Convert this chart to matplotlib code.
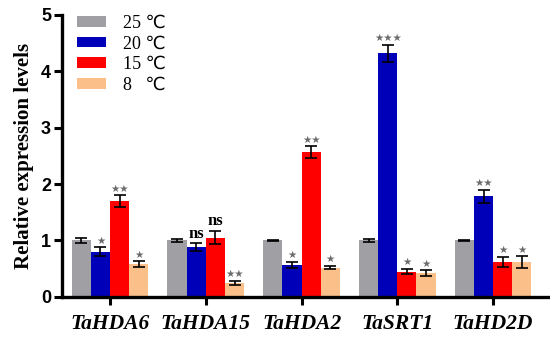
import numpy as np
import matplotlib
matplotlib.use('Agg')
import matplotlib.pyplot as plt

genes = ['TaHDA6', 'TaHDA15', 'TaHDA2', 'TaSRT1', 'TaHD2D']
temps = ['25 ℃', '20 ℃', '15 ℃', '8   ℃']
colors = ['#a0a0a4', '#0000b8', '#ff0000', '#fbc08a']

# rows = temperature, columns = gene
values = [
    [1.00, 1.00, 1.00, 1.00, 1.00],
    [0.80, 0.88, 0.57, 4.32, 1.78],
    [1.70, 1.05, 2.57, 0.45, 0.62],
    [0.58, 0.25, 0.52, 0.42, 0.62],
]
errors = [
    [0.05, 0.03, 0.01, 0.03, 0.01],
    [0.08, 0.07, 0.05, 0.15, 0.12],
    [0.10, 0.12, 0.10, 0.05, 0.09],
    [0.05, 0.04, 0.03, 0.05, 0.10],
]
marks = [
    ['', '', '', '', ''],
    ['*', 'ns', '*', '***', '**'],
    ['**', 'ns', '**', '*', '*'],
    ['*', '**', '*', '*', '*'],
]

fig = plt.figure(figsize=(5.5, 3.37), dpi=100)
ax = fig.add_axes([0.113, 0.119, 0.895, 0.837])

x = np.arange(len(genes))
w = 0.2
for i in range(len(temps)):
    xs = x + (i - 1.5) * w
    ax.bar(xs, values[i], width=w, color=colors[i], label=temps[i],
           edgecolor='none', zorder=2)
    ax.errorbar(xs, values[i], yerr=errors[i], fmt='none', ecolor='black',
                elinewidth=1.2, capsize=4, capthick=1.2, zorder=3)
    for j in range(len(genes)):
        m = marks[i][j]
        if not m:
            continue
        top = values[i][j] + errors[i][j] + 0.03
        if m == 'ns':
            ax.text(xs[j], top, 'ns', ha='center', va='bottom',
                    fontsize=12, fontweight='bold', family='Liberation Serif')
        else:
            ax.text(xs[j], top, '★' * len(m), ha='center',
                    va='bottom', fontsize=7.5, color='#6b6b6b',
                    family='DejaVu Sans')

ax.set_xlim(-0.5, 4.64)
ax.set_ylim(0, 5)
ax.set_yticks(range(6))
ax.set_yticklabels([str(v) for v in range(6)], fontsize=13,
                   fontweight='bold', family='Liberation Sans')
ax.set_xticks(x)
ax.set_xticklabels(genes, fontsize=15.5, fontweight='bold', style='italic',
                   family='Liberation Serif')
ax.tick_params(axis='both', width=2.2, length=6, pad=2)
ax.tick_params(axis='x', pad=6)

for s in ['top', 'right']:
    ax.spines[s].set_visible(False)
for s in ['left', 'bottom']:
    ax.spines[s].set_linewidth(2.4)

ax.set_ylabel('Relative expression levels', fontsize=15, fontweight='bold',
              family='Liberation Serif', labelpad=5)

ax.legend(loc='upper left', bbox_to_anchor=(0.005, 1.045), frameon=False,
          prop={'family': ['Liberation Serif', 'DejaVu Sans'], 'size': 13},
          handlelength=1.6, handleheight=0.55, labelspacing=0.2,
          handletextpad=0.95, borderaxespad=0.3)

plt.savefig('out.png', dpi=100)
